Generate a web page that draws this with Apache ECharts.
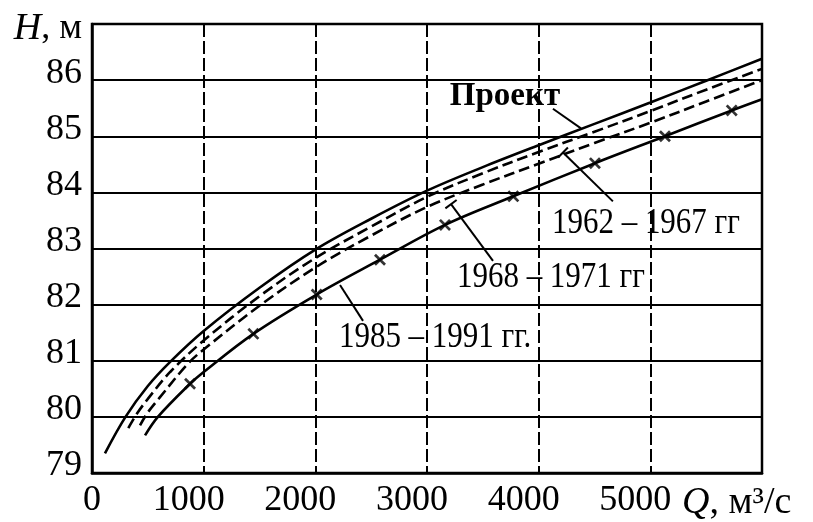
<!DOCTYPE html>
<html>
<head>
<meta charset="utf-8">
<script src="https://cdn.jsdelivr.net/npm/echarts@6/dist/echarts.min.js"></script>
<style>
html,body{margin:0;padding:0;background:#fff;}
#c{width:813px;height:522px;}
</style>
</head>
<body>
<div id="c"></div>
<script>
// ---- data ----
var xTicks = [0, 1000, 2000, 3000, 4000, 5000];
var yTicks = [79, 80, 81, 82, 83, 84, 85, 86];

var proekt = [[116,79.35],[300,80.0],[500,80.55],[700,80.98],[1000,81.53],[1500,82.3],[2000,82.98],[2500,83.53],[3000,84.03],[3500,84.45],[4000,84.84],[4500,85.22],[5000,85.6],[5500,85.99],[6000,86.38]];
var y1962 = [[325,79.8],[400,80.05],[500,80.32],[700,80.8],[1000,81.36],[1500,82.15],[2000,82.83],[2500,83.39],[3000,83.92],[3500,84.34],[4000,84.72],[4500,85.08],[5000,85.45],[5500,85.83],[6000,86.2]];
var y1968 = [[430,79.85],[500,80.08],[600,80.33],[860,80.95],[1000,81.2],[1500,81.98],[2000,82.66],[2500,83.23],[3000,83.74],[3500,84.14],[4000,84.51],[4500,84.88],[5000,85.24],[5500,85.62],[6000,86.0]];
var y1985 = [[475,79.67],[590,80.0],[878,80.59],[1000,80.8],[1445,81.48],[2012,82.18],[2579,82.8],[3161,83.42],[3773,83.93],[4504,84.52],[5131,85.0],[5729,85.46],[6000,85.66]];
var marks1985 = [[878,80.59],[1445,81.48],[2012,82.18],[2579,82.8],[3161,83.42],[3773,83.93],[4504,84.52],[5131,85.0],[5729,85.46]];

// annotations: text, label centre, leader start, leader tip (data coords)
var notes = [
  {text:'Проект', bold:true, c:[3698,85.70], s:[4128,85.49], t:[4379,85.14], hook:false},
  {text:'1962 – 1967 гг', c:[4961,83.45], s:[4665,83.84], t:[4218,84.71], hook:true},
  {text:'1968 – 1971 гг', c:[4110,82.49], s:[3591,82.78], t:[3215,83.79], hook:true},
  {text:'1985 – 1991 гг.', c:[3072,81.41], s:[2427,81.71], t:[2221,82.35], hook:false}
];

var FONT = '"Liberation Serif", "Times New Roman", serif';
var chart = echarts.init(document.getElementById('c'), null, {renderer:'canvas'});

function lineSeries(name, data, dashed){
  return {
    name:name, type:'line', data:data, smooth:0.35, symbol:'none',
    lineStyle:{color:'#000', width:2.6, type: dashed ? [11,5] : 'solid'},
    z:5, silent:true
  };
}

var option = {
  backgroundColor:'#fff',
  animation:false,
  grid:{left:92, right:51, top:24, bottom:49, show:true, borderColor:'#000', borderWidth:2.5, backgroundColor:'transparent'},
  xAxis:{
    type:'value', min:0, max:6000, interval:1000,
    axisLine:{show:true, lineStyle:{color:'#000', width:2.5}},
    axisTick:{show:false},
    splitLine:{show:true, lineStyle:{color:'#000', width:2, type:[13,4]}},
    axisLabel:{
      showMaxLabel:false, margin:10, color:'#000',
      formatter:function(v){ return v===0 ? '{z|0}' : '{n|'+v+'}'; },
      rich:{
        z:{fontFamily:FONT, fontSize:36, color:'#000'},
        n:{fontFamily:FONT, fontSize:36, color:'#000', padding:[0,30,0,0]}
      }
    },
    name:'{q|Q}{r|, м³/с}',
    nameLocation:'end', nameGap:-80,
    nameTextStyle:{
      verticalAlign:'top', align:'left', padding:[11,0,0,0],
      rich:{
        q:{fontFamily:FONT, fontSize:38, fontStyle:'italic', color:'#000'},
        r:{fontFamily:FONT, fontSize:38, color:'#000'}
      }
    }
  },
  yAxis:{
    type:'value', min:79, max:87, interval:1,
    axisLine:{show:true, lineStyle:{color:'#000', width:2.5}},
    axisTick:{show:false},
    splitLine:{show:true, lineStyle:{color:'#000', width:2}},
    axisLabel:{
      showMaxLabel:false, margin:10, color:'#000',
      formatter:function(v){ return '{y|'+v+'}'; },
      rich:{ y:{fontFamily:FONT, fontSize:36, color:'#000', padding:[0,0,14,0]} }
    },
    name:'{h|H}{r|, м}',
    nameLocation:'end', nameGap:0,
    nameTextStyle:{
      align:'right', verticalAlign:'middle', padding:[10,10,0,0],
      rich:{
        h:{fontFamily:FONT, fontSize:38, fontStyle:'italic', color:'#000'},
        r:{fontFamily:FONT, fontSize:36, color:'#000'}
      }
    }
  },
  series:[
    lineSeries('Проект', proekt, false),
    lineSeries('1962 – 1967 гг', y1962, true),
    lineSeries('1968 – 1971 гг', y1968, true),
    lineSeries('1985 – 1991 гг.', y1985, false),
    {
      name:'marks', type:'scatter', data:marks1985,
      symbol:'path://M0,1.6L1.6,0L5,3.4L8.4,0L10,1.6L6.6,5L10,8.4L8.4,10L5,6.6L1.6,10L0,8.4L3.4,5Z',
      symbolSize:12, itemStyle:{color:'#000'}, z:6, silent:true
    }
  ]
};
chart.setOption(option);

// annotations placed through the chart's own coordinate conversion
var g = [];
notes.forEach(function(n){
  var c = chart.convertToPixel({gridIndex:0}, n.c);
  var s = chart.convertToPixel({gridIndex:0}, n.s);
  var t = chart.convertToPixel({gridIndex:0}, n.t);
  g.push({
    type:'text', x:c[0], y:c[1], scaleX: n.bold ? 1 : 0.86, z:20,
    style:{text:n.text, fill:'#000', align:'center', verticalAlign:'middle',
      font:(n.bold ? 'bold 33px ' : '36px ') + FONT}
  });
  g.push({type:'line', shape:{x1:s[0], y1:s[1], x2:t[0], y2:t[1]}, style:{stroke:'#000', lineWidth:2}, z:20});
  if(n.hook){
    var dx = t[0]-s[0], dy = t[1]-s[1], L = Math.sqrt(dx*dx+dy*dy);
    var px = -dy/L*7, py = dx/L*7;
    g.push({type:'line', shape:{x1:t[0]-px, y1:t[1]-py, x2:t[0]+px, y2:t[1]+py}, style:{stroke:'#000', lineWidth:2}, z:20});
  }
});
chart.setOption({graphic:g});
</script>
</body>
</html>
